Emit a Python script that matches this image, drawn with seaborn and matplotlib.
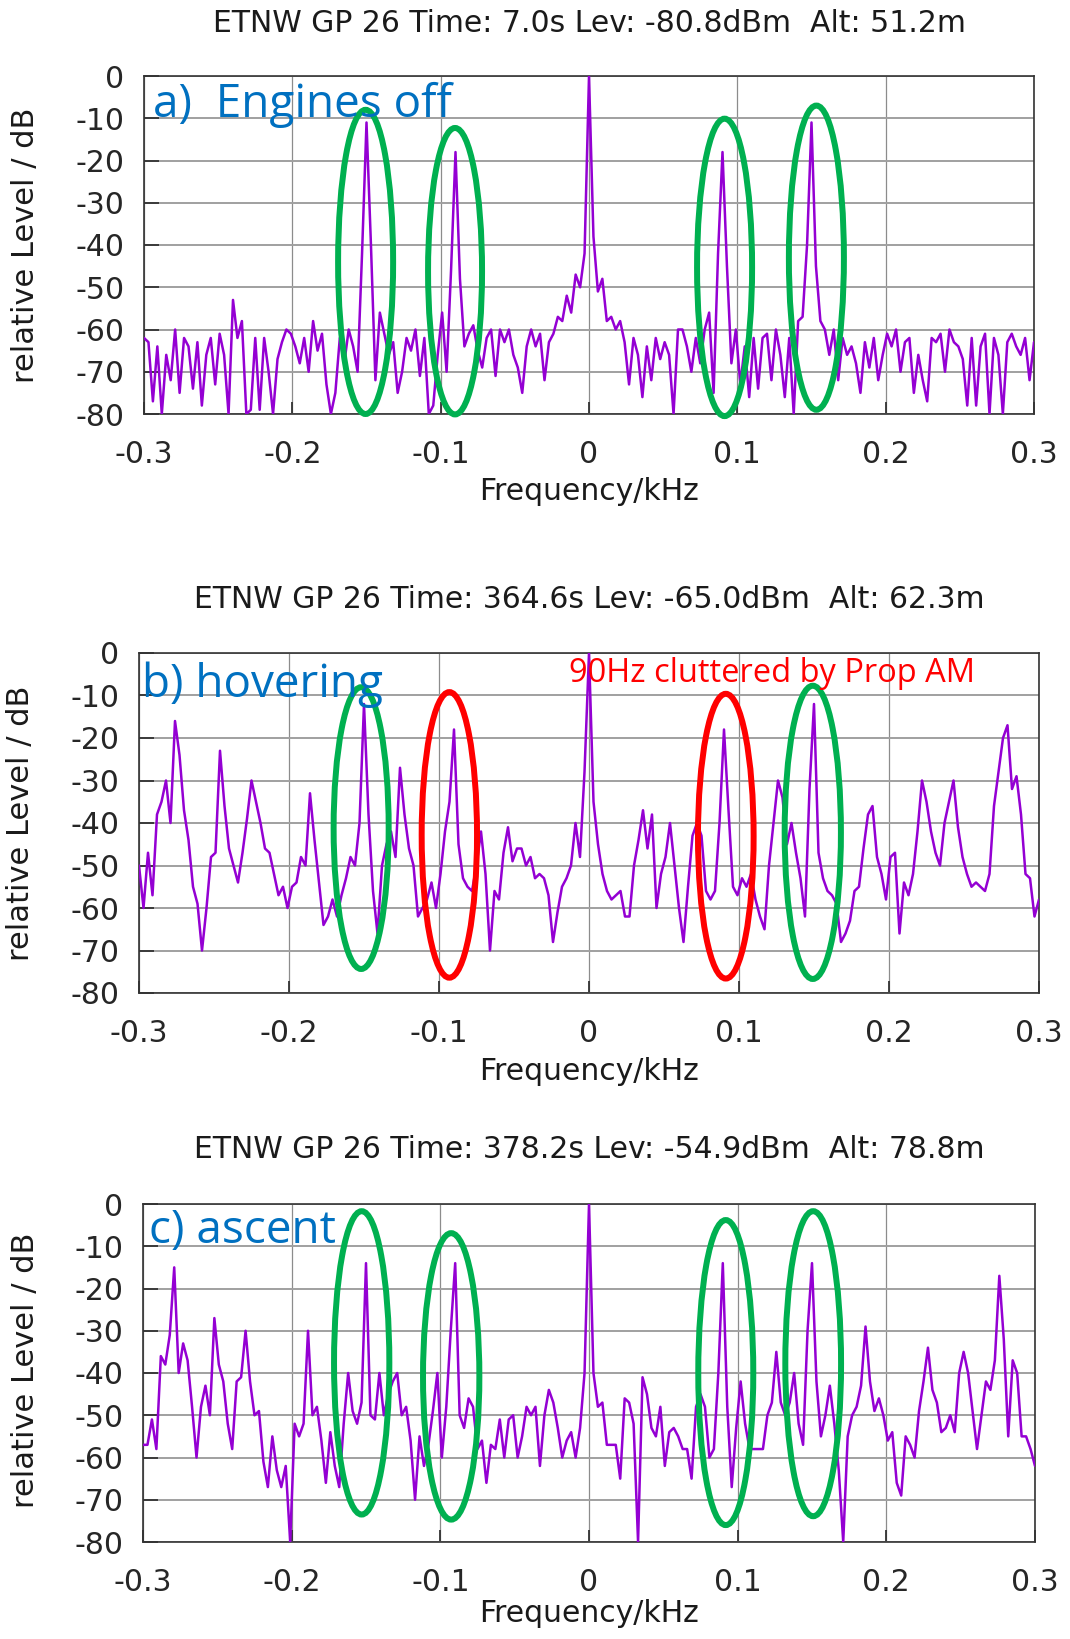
import matplotlib
matplotlib.use("Agg")
import matplotlib.pyplot as plt
from matplotlib.patches import Ellipse
import seaborn as sns
import pandas as pd
import numpy as np

# frequency bins of the spectra (kHz), 3 Hz apart
freq_khz = np.linspace(-0.3, 0.3, 201)

# a) engines off
level_a = [
    -62, -63, -77, -64, -80, -66, -72, -60, -75, -62,
    -64, -74, -63, -78, -66, -62, -73, -61, -66, -80,
    -53, -62, -58, -80, -79, -62, -79, -62, -70, -80,
    -67, -63, -60, -61, -64, -68, -62, -70, -58, -65,
    -61, -73, -80, -75, -62, -68, -60, -64, -70, -42,
    -11, -40, -72, -56, -61, -66, -63, -75, -70, -62,
    -65, -60, -71, -62, -80, -78, -66, -56, -70, -46,
    -18, -48, -64, -61, -59, -65, -69, -62, -60, -71,
    -60, -63, -60, -66, -69, -75, -64, -60, -64, -61,
    -72, -63, -61, -57, -58, -52, -56, -47, -50, -42,
    0,
    -38, -51, -48, -58, -57, -60, -58, -63, -73, -62,
    -66, -76, -64, -72, -62, -67, -63, -66, -80, -60,
    -60, -64, -70, -62, -68, -60, -56, -75, -42, -18,
    -45, -68, -60, -73, -64, -76, -62, -74, -62, -61,
    -72, -60, -66, -76, -62, -80, -58, -57, -40, -11,
    -45, -58, -60, -66, -60, -72, -62, -66, -64, -68,
    -75, -63, -69, -62, -72, -66, -61, -64, -60, -70,
    -63, -62, -75, -66, -72, -77, -62, -63, -61, -70,
    -60, -63, -64, -67, -78, -62, -78, -64, -61, -80,
    -62, -66, -80, -63, -61, -64, -66, -62, -72, -63,
]

# b) hovering
level_b = [
    -50, -60, -47, -57, -38, -35, -30, -40, -16, -24,
    -37, -44, -55, -59, -70, -60, -48, -47, -23, -36,
    -46, -50, -54, -47, -39, -30, -35, -40, -46, -47,
    -52, -57, -55, -60, -55, -54, -48, -50, -33, -44,
    -54, -64, -62, -58, -62, -57, -53, -48, -50, -40,
    -12, -38, -56, -66, -50, -45, -42, -48, -27, -38,
    -46, -50, -62, -60, -58, -54, -60, -52, -42, -35,
    -18, -45, -53, -55, -56, -50, -42, -52, -70, -56,
    -58, -47, -41, -49, -46, -46, -50, -48, -53, -52,
    -53, -57, -68, -61, -55, -53, -50, -40, -48, -28,
    0,
    -35, -45, -52, -56, -58, -57, -56, -62, -62, -50,
    -44, -37, -46, -38, -60, -52, -48, -40, -50, -60,
    -68, -55, -43, -40, -43, -56, -58, -56, -40, -18,
    -37, -55, -57, -53, -55, -52, -58, -62, -65, -50,
    -40, -30, -34, -45, -40, -47, -53, -62, -32, -12,
    -47, -53, -56, -57, -59, -68, -66, -63, -56, -55,
    -46, -38, -36, -48, -52, -58, -48, -47, -66, -54,
    -57, -52, -42, -30, -35, -42, -47, -50, -40, -35,
    -30, -41, -48, -52, -55, -54, -55, -56, -52, -36,
    -28, -20, -17, -32, -29, -38, -52, -53, -62, -58,
]

# c) ascent
level_c = [
    -57, -57, -51, -58, -36, -38, -31, -15, -40, -33,
    -37, -48, -60, -48, -43, -50, -27, -38, -42, -52,
    -58, -42, -41, -30, -42, -50, -49, -61, -67, -55,
    -63, -67, -62, -80, -52, -55, -52, -30, -50, -48,
    -56, -66, -54, -62, -67, -52, -40, -49, -52, -47,
    -14, -50, -51, -40, -50, -45, -42, -40, -50, -48,
    -56, -70, -55, -62, -57, -49, -40, -60, -48, -30,
    -14, -50, -53, -46, -48, -58, -56, -66, -57, -58,
    -51, -60, -51, -50, -60, -55, -48, -50, -48, -62,
    -50, -44, -47, -53, -60, -56, -54, -60, -53, -40,
    0,
    -40, -48, -47, -57, -57, -57, -65, -46, -47, -52,
    -80, -41, -45, -53, -55, -48, -62, -54, -53, -55,
    -58, -58, -65, -48, -45, -48, -60, -58, -40, -14,
    -48, -67, -53, -42, -52, -58, -58, -58, -58, -50,
    -47, -35, -47, -50, -47, -40, -52, -57, -30, -14,
    -42, -55, -50, -43, -52, -63, -80, -55, -50, -48,
    -43, -29, -42, -49, -46, -50, -56, -54, -66, -69,
    -55, -57, -60, -49, -42, -34, -44, -47, -54, -53,
    -50, -54, -40, -35, -40, -49, -58, -50, -42, -44,
    -37, -17, -32, -55, -37, -40, -55, -55, -58, -62,
]

titles = [
    "ETNW GP 26 Time: 7.0s Lev: -80.8dBm  Alt: 51.2m",
    "ETNW GP 26 Time: 364.6s Lev: -65.0dBm  Alt: 62.3m",
    "ETNW GP 26 Time: 378.2s Lev: -54.9dBm  Alt: 78.8m",
]
panel_labels = ["a)  Engines off", "b) hovering", "c) ascent"]
x_ticks = [-0.3, -0.2, -0.1, 0, 0.1, 0.2, 0.3]
x_ticklabels = ["-0.3", "-0.2", "-0.1", "0", "0.1", "0.2", "0.3"]
y_ticks = [0, -10, -20, -30, -40, -50, -60, -70, -80]
y_ticklabels = ["0", "-10", "-20", "-30", "-40", "-50", "-60", "-70", "-80"]

# ellipse marks: (centre f, centre dB, width kHz, height dB, colour)
GREEN = "#00B050"
RED = "#FF0000"
marks = [
    [(-0.1506, -44.0, 0.0371, 72.0, GREEN), (-0.0903, -46.2, 0.0364, 67.8, GREEN),
     (0.0914, -45.3, 0.0371, 70.4, GREEN), (0.1533, -43.0, 0.0371, 72.0, GREEN)],
    [(-0.1519, -41.2, 0.0367, 66.3, GREEN), (-0.0931, -42.8, 0.0369, 67.2, RED),
     (0.0912, -43.1, 0.0371, 67.0, RED), (0.1492, -42.2, 0.0375, 69.0, GREEN)],
    [(-0.1529, -37.6, 0.0372, 71.8, GREEN), (-0.0927, -40.8, 0.0379, 67.8, GREEN),
     (0.0920, -39.9, 0.0370, 72.2, GREEN), (0.1508, -37.8, 0.0375, 72.2, GREEN)],
]

sns.set_theme(style="white")
plt.rcParams["font.family"] = ["DejaVu Sans"]
plt.rcParams["axes.unicode_minus"] = False

W, H = 1070, 1639
fig = plt.figure(figsize=(W / 100, H / 100), dpi=100)

# pixel boxes of the three plots: left, top, right, bottom
boxes = [(144, 76, 1034, 414), (139, 653, 1039, 993), (143, 1204, 1035, 1542)]
title_y = [23, 599, 1149]
xlabel_y = [492, 1072, 1614]
ylabel_pos = [(26, 245), (21, 823), (26, 1370)]
label_pos = [(152.7, 116.7), (141.7, 696.7), (149.3, 1243.3)]

TRACE = "#9400D3"
FS = 21.5
levels = [level_a, level_b, level_c]

for n in range(3):
    l, t, r, b = boxes[n]
    ax = fig.add_axes([l / W, 1 - b / H, (r - l) / W, (b - t) / H])
    df = pd.DataFrame({"f": freq_khz, "dB": levels[n]})
    sns.lineplot(data=df, x="f", y="dB", ax=ax, color=TRACE, linewidth=1.8, zorder=3)

    ax.set_xlim(-0.3, 0.3)
    ax.set_ylim(-80, 0)
    ax.set_xticks(x_ticks)
    ax.set_xticklabels(x_ticklabels)
    ax.set_yticks(y_ticks)
    ax.set_yticklabels(y_ticklabels)
    ax.set_xlabel("")
    ax.set_ylabel("")
    ax.tick_params(axis="y", direction="in", length=11, width=1.3, color="#333333",
                   labelsize=FS, pad=14, left=True)
    ax.tick_params(axis="x", direction="in", length=9, width=1.3, color="#333333",
                   labelsize=FS, pad=18.5, bottom=True)
    ax.grid(axis="y", color="#a0a0a0", linewidth=1.4)
    ax.grid(axis="x", color="#8c8c8c", linewidth=0.9)
    ax.set_axisbelow(True)
    for sp in ax.spines.values():
        sp.set_color("#333333")
        sp.set_linewidth(1.2)

    for (cx, cy, w, h, col) in marks[n]:
        ax.add_patch(Ellipse((cx, cy), w, h, fill=False, edgecolor=col,
                             linewidth=4.3, clip_on=False, zorder=5))

    fig.text((l + r) / 2 / W, 1 - title_y[n] / H, titles[n], ha="center", va="center",
             fontsize=FS, color="#1a1a1a")
    fig.text((l + r) / 2 / W, 1 - xlabel_y[n] / H, "Frequency/kHz", ha="center",
             va="center", fontsize=FS, color="#1a1a1a")
    yx, yy = ylabel_pos[n]
    fig.text(yx / W, 1 - yy / H, "relative Level / dB", rotation=90, ha="center",
             va="center", fontsize=22, color="#1a1a1a")
    px, py = label_pos[n]
    fig.text(px / W, 1 - py / H, panel_labels[n], ha="left", va="baseline",
             fontsize=33, color="#0070C0", family=["Open Sans", "DejaVu Sans"], zorder=6)

fig.text(569.3 / W, 1 - 681.7 / H, "90Hz cluttered by Prop AM", ha="left", va="baseline",
         fontsize=23.5, color=RED, family=["Open Sans", "DejaVu Sans"])

fig.savefig("out.png", dpi=100)
